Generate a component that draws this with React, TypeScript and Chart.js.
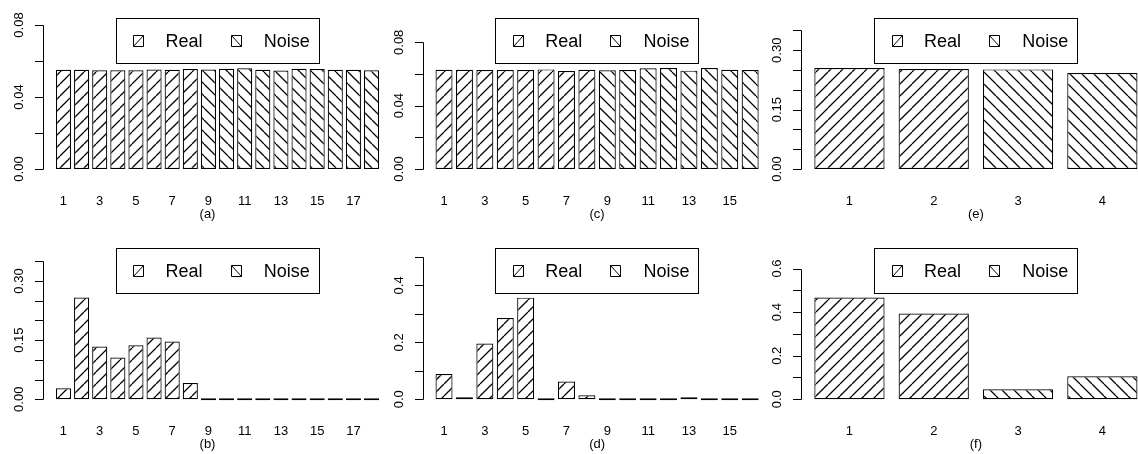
import React, { useEffect, useRef } from 'react';
import { Chart, registerables } from 'chart.js';

Chart.register(...registerables);

// ---------------- data ----------------
const categoriesA = ['1','2','3','4','5','6','7','8','9','10','11','12','13','14','15','16','17','18'];
const valuesA = [0.0551, 0.0551, 0.0549, 0.0549, 0.0549, 0.0553, 0.0551, 0.0555, 0.0553, 0.0557, 0.0560, 0.0551, 0.0547, 0.0557, 0.0555, 0.0551, 0.0551, 0.0549];
const realCountA = 8;
const xLabelsA = ['1','3','5','7','9','11','13','15','17'];
const yTicksA = [0, 0.02, 0.04, 0.06, 0.08];
const yLabelsA = ['0.00', '0.04', '0.08'];
const yLabelValsA = [0, 0.04, 0.08];
const yMaxA = 0.0805;

const categoriesC = ['1','2','3','4','5','6','7','8','9','10','11','12','13','14','15','16'];
const valuesC = [0.0627, 0.0627, 0.0625, 0.0625, 0.0625, 0.0629, 0.0619, 0.0627, 0.0623, 0.0625, 0.0636, 0.0638, 0.0621, 0.0638, 0.0627, 0.0625];
const realCountC = 8;
const xLabelsC = ['1','3','5','7','9','11','13','15'];
const yTicksC = [0, 0.02, 0.04, 0.06, 0.08];
const yLabelsC = ['0.00', '0.04', '0.08'];
const yLabelValsC = [0, 0.04, 0.08];
const yMaxC = 0.0915;

const categoriesE = ['1','2','3','4'];
const valuesE = [0.2549, 0.2524, 0.2516, 0.2423];
const realCountE = 2;
const xLabelsE = ['1','2','3','4'];
const yTicksE = [0, 0.05, 0.10, 0.15, 0.20, 0.25, 0.30, 0.35];
const yLabelsE = ['0.00', '0.15', '0.30'];
const yLabelValsE = [0, 0.15, 0.30];
const yMaxE = 0.366;

const categoriesB = ['1','2','3','4','5','6','7','8','9','10','11','12','13','14','15','16','17','18'];
const valuesB = [0.0279, 0.2578, 0.1336, 0.1057, 0.1370, 0.1564, 0.1463, 0.0414, 0, 0, 0, 0, 0, 0, 0, 0, 0, 0];
const realCountB = 8;
const xLabelsB = ['1','3','5','7','9','11','13','15','17'];
const yTicksB = [0, 0.05, 0.10, 0.15, 0.20, 0.25, 0.30, 0.35];
const yLabelsB = ['0.00', '0.15', '0.30'];
const yLabelValsB = [0, 0.15, 0.30];
const yMaxB = 0.3696;

const categoriesD = ['1','2','3','4','5','6','7','8','9','10','11','12','13','14','15','16'];
const valuesD = [0.089, 0.004, 0.1956, 0.2857, 0.357, 0, 0.062, 0.014, 0, 0, 0, 0, 0.002, 0, 0, 0];
const realCountD = 8;
const xLabelsD = ['1','3','5','7','9','11','13','15'];
const yTicksD = [0, 0.1, 0.2, 0.3, 0.4, 0.5];
const yLabelsD = ['0.0', '0.2', '0.4'];
const yLabelValsD = [0, 0.2, 0.4];
const yMaxD = 0.512;

const categoriesF = ['1','2','3','4'];
const valuesF = [0.4668, 0.3934, 0.0459, 0.1056];
const realCountF = 2;
const xLabelsF = ['1','2','3','4'];
const yTicksF = [0, 0.1, 0.2, 0.3, 0.4, 0.5, 0.6];
const yLabelsF = ['0.0', '0.2', '0.4', '0.6'];
const yLabelValsF = [0, 0.2, 0.4, 0.6];
const yMaxF = 0.669;

const seriesNames = ['Real', 'Noise'];

// ---------------- layout ----------------
const PAGE_W = 1138;
const PAGE_H = 454;
const CANVAS_W = 1170;
const COL_X = [0, 379.6, 758.4];
const SUB_SHIFT = [-10, 0, 0];
const ROW_TOP = [18.3, 247.7];
const ROW_BOTTOM = [174.8, 405.1];
const AXIS_OFFSET = 43;
const PLOT_W = 349;
const FONT = '"Liberation Sans", Arimo, Arial, sans-serif';
const AXIS_FONT_PX = 13;

type PanelCfg = {
  tag: string; col: number; row: number;
  cats: string[]; values: number[]; realCount: number; xLabels: string[];
  yTicks: number[]; yLabels: string[]; yLabelVals: number[]; yMax: number;
};

const panels: PanelCfg[] = [
  { tag: '(a)', col: 0, row: 0, cats: categoriesA, values: valuesA, realCount: realCountA, xLabels: xLabelsA, yTicks: yTicksA, yLabels: yLabelsA, yLabelVals: yLabelValsA, yMax: yMaxA },
  { tag: '(c)', col: 1, row: 0, cats: categoriesC, values: valuesC, realCount: realCountC, xLabels: xLabelsC, yTicks: yTicksC, yLabels: yLabelsC, yLabelVals: yLabelValsC, yMax: yMaxC },
  { tag: '(e)', col: 2, row: 0, cats: categoriesE, values: valuesE, realCount: realCountE, xLabels: xLabelsE, yTicks: yTicksE, yLabels: yLabelsE, yLabelVals: yLabelValsE, yMax: yMaxE },
  { tag: '(b)', col: 0, row: 1, cats: categoriesB, values: valuesB, realCount: realCountB, xLabels: xLabelsB, yTicks: yTicksB, yLabels: yLabelsB, yLabelVals: yLabelValsB, yMax: yMaxB },
  { tag: '(d)', col: 1, row: 1, cats: categoriesD, values: valuesD, realCount: realCountD, xLabels: xLabelsD, yTicks: yTicksD, yLabels: yLabelsD, yLabelVals: yLabelValsD, yMax: yMaxD },
  { tag: '(f)', col: 2, row: 1, cats: categoriesF, values: valuesF, realCount: realCountF, xLabels: xLabelsF, yTicks: yTicksF, yLabels: yLabelsF, yLabelVals: yLabelValsF, yMax: yMaxF },
];

function makeHatch(dir: number): CanvasPattern | string {
  const s = 12;
  const c = document.createElement('canvas');
  c.width = s; c.height = s;
  const g = c.getContext('2d');
  if (!g) return '#fff';
  g.fillStyle = '#fff';
  g.fillRect(0, 0, s, s);
  g.strokeStyle = '#000';
  g.lineWidth = 1.25;
  g.beginPath();
  for (const o of [-s, 0, s]) {
    if (dir > 0) { g.moveTo(o, s); g.lineTo(o + s, 0); }
    else { g.moveTo(o, 0); g.lineTo(o + s, s); }
  }
  g.stroke();
  return g.createPattern(c, 'repeat') || '#fff';
}

const rStylePlugin = {
  id: 'rStyle',
  afterDatasetsDraw(chart: any, _args: any, opts: any) {
    const ctx: CanvasRenderingContext2D = chart.ctx;
    const ys = chart.scales.y;
    const xs = chart.scales.x;
    const plotLeft: number = opts.plotLeft;
    const plotRight: number = opts.plotRight;
    const plotTop: number = opts.plotTop;
    const plotBottom: number = opts.plotBottom;
    ctx.save();
    ctx.strokeStyle = '#000';
    ctx.fillStyle = '#000';
    ctx.lineWidth = 1;

    // y axis (R style)
    const ax = Math.round(plotLeft) + 0.5;
    const tps: number[] = opts.yTicks.map((v: number) => ys.getPixelForValue(v));
    ctx.beginPath();
    ctx.moveTo(ax, Math.round(tps[0]) + 0.5);
    ctx.lineTo(ax, Math.round(tps[tps.length - 1]) + 0.5);
    tps.forEach((p) => {
      const yy = Math.round(p) + 0.5;
      ctx.moveTo(ax, yy);
      ctx.lineTo(ax - 8.5, yy);
    });
    ctx.stroke();

    ctx.font = `${AXIS_FONT_PX}px ${FONT}`;
    (opts.yLabelVals as number[]).forEach((v, i) => {
      const p = ys.getPixelForValue(v);
      ctx.save();
      ctx.translate(ax - 21, p);
      ctx.rotate(-Math.PI / 2);
      ctx.textAlign = 'center';
      ctx.textBaseline = 'alphabetic';
      ctx.fillText(opts.yLabels[i], 0, 0);
      ctx.restore();
    });

    // x labels
    ctx.textAlign = 'center';
    ctx.textBaseline = 'alphabetic';
    const cats: string[] = chart.data.labels;
    cats.forEach((c, i) => {
      if ((opts.xLabels as string[]).includes(c)) {
        ctx.fillText(c, xs.getPixelForValue(i), plotBottom + 30);
      }
    });

    // sub label
    const cx = (plotLeft + plotRight) / 2;
    ctx.fillText(opts.tag, cx + opts.subShift, plotBottom + 43);

    // legend
    const bw = 203.3, bh = 45;
    const bx = cx - bw / 2;
    ctx.fillStyle = '#fff';
    ctx.fillRect(bx, plotTop, bw, bh);
    ctx.fillStyle = '#000';
    ctx.strokeRect(Math.round(bx) + 0.5, Math.round(plotTop) + 0.5, Math.round(bw), Math.round(bh));
    const midY = plotTop + bh / 2;
    const keyX = [bx + 17.3, bx + 115];
    const txtX = [bx + 49.7, bx + 148];
    ctx.font = `18px ${FONT}`;
    ctx.textAlign = 'left';
    (opts.names as string[]).forEach((nm, k) => {
      const kx = Math.round(keyX[k]) + 0.5;
      const ky = Math.round(midY - 5.5) + 0.5;
      const kw = 10, kh = 11;
      ctx.beginPath();
      ctx.rect(kx, ky, kw, kh);
      if (k === 0) { ctx.moveTo(kx, ky + kh); ctx.lineTo(kx + kw, ky); }
      else { ctx.moveTo(kx, ky); ctx.lineTo(kx + kw, ky + kh); }
      ctx.stroke();
      ctx.fillText(nm, txtX[k], midY + 6.4);
    });
    ctx.restore();
  },
};

function Panel({ cfg }: { cfg: PanelCfg }) {
  const ref = useRef<HTMLCanvasElement>(null);
  useEffect(() => {
    const canvas = ref.current;
    if (!canvas) return;
    const n = cfg.cats.length;
    const plotLeft = COL_X[cfg.col] + AXIS_OFFSET;
    const plotRight = plotLeft + PLOT_W;
    const plotTop = ROW_TOP[cfg.row];
    const plotBottom = ROW_BOTTOM[cfg.row];
    const span = 1.2 * n - 0.2;
    const unit = PLOT_W / (1.08 * span);
    const xmin = 0.2 - 0.04 * span;
    const chartLeft = plotLeft + (0.1 - xmin) * unit;
    const chartWidth = 1.2 * n * unit;

    const realPat = makeHatch(1);
    const noisePat = makeHatch(-1);
    const realData = cfg.values.map((v, i) => (i < cfg.realCount ? v : null));
    const noiseData = cfg.values.map((v, i) => (i >= cfg.realCount ? v : null));

    const common = { borderColor: '#000', borderWidth: 1.2, borderSkipped: false, minBarLength: 2, grouped: false, categoryPercentage: 1, barPercentage: 1 / 1.2 };
    const chart = new Chart(canvas, {
      type: 'bar',
      data: {
        labels: cfg.cats,
        datasets: [
          { label: seriesNames[0], data: realData as any, backgroundColor: realPat as any, ...common } as any,
          { label: seriesNames[1], data: noiseData as any, backgroundColor: noisePat as any, ...common } as any,
        ],
      },
      options: {
        responsive: false,
        animation: false,
        devicePixelRatio: 1,
        events: [],
        layout: {
          padding: {
            left: chartLeft,
            right: CANVAS_W - (chartLeft + chartWidth),
            top: plotTop,
            bottom: PAGE_H - plotBottom,
          },
        },
        scales: {
          x: { type: 'category', display: false, offset: true },
          y: { type: 'linear', display: false, min: -0.04 * cfg.yMax, max: 1.04 * cfg.yMax },
        },
        plugins: {
          legend: { display: false },
          tooltip: { enabled: false },
          title: { display: false },
          rStyle: {
            plotLeft, plotRight, plotTop, plotBottom, subShift: SUB_SHIFT[cfg.col],
            yTicks: cfg.yTicks, yLabels: cfg.yLabels, yLabelVals: cfg.yLabelVals,
            xLabels: cfg.xLabels, tag: cfg.tag, names: seriesNames,
          },
        } as any,
      },
      plugins: [rStylePlugin as any],
    });
    return () => chart.destroy();
  }, [cfg]);
  return (
    <canvas
      ref={ref}
      width={CANVAS_W}
      height={PAGE_H}
      style={{ position: 'absolute', left: 0, top: 0, width: CANVAS_W, height: PAGE_H }}
    />
  );
}

export default function App() {
  return (
    <div style={{ position: 'absolute', left: 0, top: 0, width: PAGE_W, height: PAGE_H, overflow: 'hidden', background: '#fff' }}>
      {panels.map((p) => (
        <Panel key={p.tag} cfg={p} />
      ))}
    </div>
  );
}
